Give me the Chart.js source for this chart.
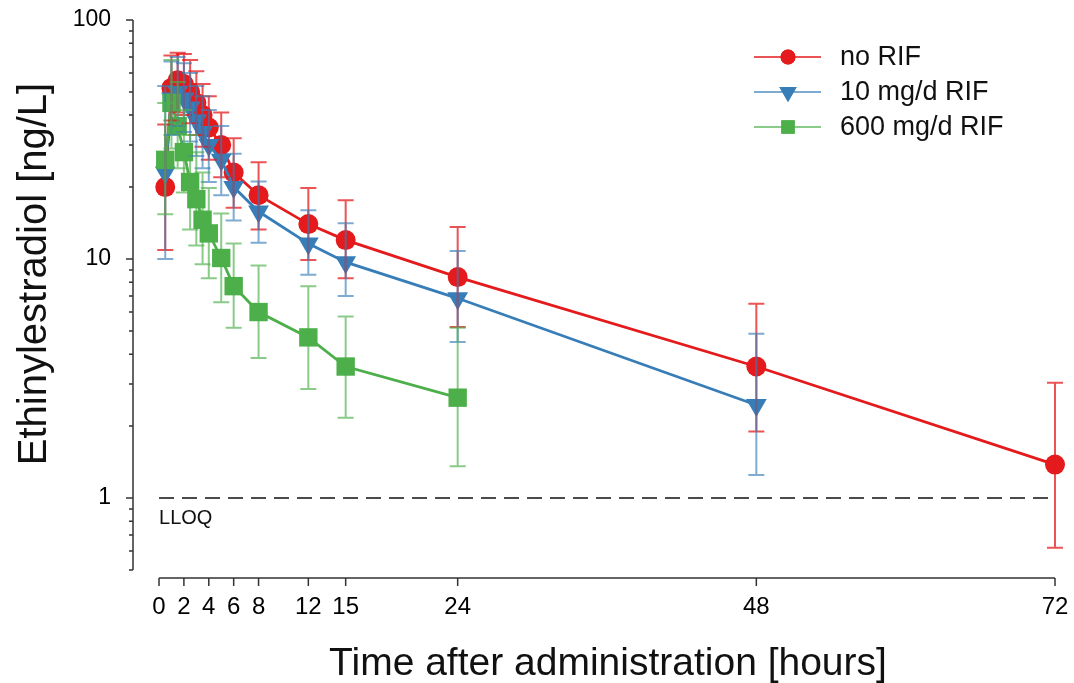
<!DOCTYPE html>
<html>
<head>
<meta charset="utf-8">
<script src="https://cdn.jsdelivr.net/npm/chart.js@4.4.0/dist/chart.umd.min.js"></script>
<style>
  body { margin: 0; background: #fff; }
  #wrap { width: 1074px; height: 683px; position: relative; }
</style>
</head>
<body>
<div id="wrap"><canvas id="chart"></canvas></div>
<script>
// sampling times (hours)
let times = [0.5, 1, 1.5, 2, 2.5, 3, 3.5, 4, 5, 6, 8, 12, 15, 24, 48, 72];

// no RIF
let noRif = [20, 52, 56, 54, 50, 45, 40, 35.5, 30, 23, 18.5, 14, 12, 8.4, 3.55, 1.38];
let noRifLow = [10.9, 38, 41, 40, 37, 33, 29.5, 26, 22, 16.4, 13.3, 9.9, 8.3, 5.2, 1.9, 0.62];
let noRifHigh = [36.5, 71, 73, 72, 68, 61, 54, 48, 41, 32, 25.4, 19.8, 17.6, 13.6, 6.5, 3.04];

// 10 mg/d RIF
let rif10 = [23, 47, 50, 47, 43, 38, 34, 30, 26, 20, 15.8, 11.6, 9.7, 6.85, 2.45];
let rif10Low = [10, 33, 36, 34, 31, 27, 24, 21, 18.5, 14.5, 11.7, 8.6, 7, 4.5, 1.25];
let rif10High = [53, 67, 70, 66, 60, 53, 48, 42, 36, 27.6, 21.1, 16, 14.1, 10.8, 4.87];

// 600 mg/d RIF
let rif600 = [26, 45, 36, 28, 21, 17.8, 14.6, 12.8, 10.1, 7.7, 6, 4.7, 3.55, 2.63];
let rif600Low = [15.4, 29, 24, 19, 13.3, 11.4, 9.5, 8.3, 6.6, 5.16, 3.85, 2.86, 2.17, 1.36];
let rif600High = [45, 68, 55, 42, 33, 28, 23, 19.8, 15.5, 11.6, 9.4, 7.7, 5.75, 5.16];

let lloq = 1;
let xTicks = [0, 2, 4, 6, 8, 12, 15, 24, 48, 72];
let yTicks = [1, 10, 100];

let red = '#e41a1c';
let blue = '#377eb8';
let green = '#4daf4a';
let font = '"Liberation Sans", Arial, sans-serif';

function pts(ys) {
    return ys.map((y, i) => ({ x: times[i], y: y }));
}

let series = [
    { label: 'no RIF', color: red, bar: 'rgba(228,26,28,0.75)', style: 'circle', low: noRifLow, high: noRifHigh },
    { label: '10 mg/d RIF', color: blue, bar: 'rgba(55,126,184,0.65)', style: 'triangle', low: rif10Low, high: rif10High },
    { label: '600 mg/d RIF', color: green, bar: 'rgba(77,175,74,0.65)', style: 'rect', low: rif600Low, high: rif600High }
];

// error bars, drawn through the chart scales
const errorBars = {
    id: 'errorBars',
    afterDatasetsDraw(chart) {
        const ctx = chart.ctx;
        const xs = chart.scales.x, ys = chart.scales.y;
        series.forEach(s => {
            ctx.save();
            ctx.strokeStyle = s.bar;
            ctx.lineWidth = 2;
            s.low.forEach((lo, i) => {
                const px = xs.getPixelForValue(times[i]);
                const yl = ys.getPixelForValue(lo);
                const yh = ys.getPixelForValue(s.high[i]);
                ctx.beginPath();
                ctx.moveTo(px, yl); ctx.lineTo(px, yh);
                ctx.moveTo(px - 8, yl); ctx.lineTo(px + 8, yl);
                ctx.moveTo(px - 8, yh); ctx.lineTo(px + 8, yh);
                ctx.stroke();
            });
            ctx.restore();
        });
    }
};

// detached axis lines, tick marks, titles, LLOQ note
const axes = {
    id: 'axes',
    afterDraw(chart) {
        const ctx = chart.ctx;
        const xs = chart.scales.x, ys = chart.scales.y;
        const left = chart.chartArea.left;
        const xy = chart.chartArea.bottom + 8;
        ctx.save();
        ctx.strokeStyle = '#333';
        ctx.lineWidth = 1.5;
        ctx.beginPath();
        ctx.moveTo(left, ys.getPixelForValue(100));
        ctx.lineTo(left, ys.getPixelForValue(0.5));
        [0.5, 0.6, 0.7, 0.8, 0.9, 1, 2, 3, 4, 5, 6, 7, 8, 9, 10, 20, 30, 40, 50, 60, 70, 80, 90, 100].forEach(v => {
            const py = ys.getPixelForValue(v);
            const len = yTicks.includes(v) ? 7 : 4;
            ctx.moveTo(left, py); ctx.lineTo(left - len, py);
        });
        ctx.moveTo(xs.getPixelForValue(0), xy);
        ctx.lineTo(xs.getPixelForValue(72), xy);
        xTicks.forEach(v => {
            const px = xs.getPixelForValue(v);
            ctx.moveTo(px, xy); ctx.lineTo(px, xy + 8);
        });
        ctx.stroke();

        ctx.fillStyle = '#111';
        ctx.font = '20px ' + font;
        ctx.textBaseline = 'alphabetic';
        ctx.fillText('LLOQ', xs.getPixelForValue(0), ys.getPixelForValue(lloq) + 26);

        ctx.font = '39px ' + font;
        ctx.textAlign = 'center';
        ctx.fillText('Time after administration [hours]', 608, 675);
        ctx.translate(46, 274);
        ctx.rotate(-Math.PI / 2);
        ctx.font = '40px ' + font;
        ctx.fillText('Ethinylestradiol [ng/L]', 0, 0);
        ctx.restore();
    }
};

// legend with line + marker
const lineLegend = {
    id: 'lineLegend',
    afterDraw(chart) {
        const ctx = chart.ctx;
        ctx.save();
        series.forEach((s, i) => {
            const y = 57 + i * 35;
            ctx.strokeStyle = s.bar;
            ctx.lineWidth = 2;
            ctx.beginPath();
            ctx.moveTo(754, y); ctx.lineTo(821, y);
            ctx.stroke();
            ctx.fillStyle = s.color;
            Chart.helpers.drawPoint(ctx, { pointStyle: s.style, radius: s.style === 'rect' ? 9.5 : (s.style === 'triangle' ? 10 : 7.5), rotation: s.style === 'triangle' ? 180 : 0, borderWidth: 0 }, 788, y);
            ctx.fill();
            ctx.fillStyle = '#111';
            ctx.font = '27px ' + font;
            ctx.textBaseline = 'middle';
            ctx.fillText(s.label, 840, y + 1);
        });
        ctx.restore();
    }
};

let datasets = [
    {
        data: pts(noRif), borderColor: red, backgroundColor: red, borderWidth: 2.8,
        pointStyle: 'circle', pointRadius: 10, pointBorderWidth: 0, order: 3, clip: false
    },
    {
        data: pts(rif10), borderColor: blue, backgroundColor: blue, borderWidth: 2.8,
        pointStyle: 'triangle', pointRotation: 180, pointRadius: 12, pointBorderWidth: 0, order: 2, clip: false
    },
    {
        data: pts(rif600), borderColor: green, backgroundColor: green, borderWidth: 2.8,
        pointStyle: 'rect', pointRadius: 13, pointBorderWidth: 0, order: 1, clip: false
    },
    {
        data: [{ x: 0, y: lloq }, { x: 72, y: lloq }], borderColor: '#111', borderWidth: 1.5,
        borderDash: [15, 8], pointRadius: 0, order: 4, clip: false
    }
];

new Chart(document.getElementById('chart'), {
    type: 'line',
    data: { datasets: datasets },
    options: {
        responsive: true,
        maintainAspectRatio: false,
        animation: false,
        layout: { padding: { top: 20, right: 19, left: 0, bottom: 0 } },
        plugins: { legend: { display: false }, tooltip: { enabled: false } },
        scales: {
            x: {
                type: 'linear',
                min: -2.09,
                max: 72,
                grid: { display: false, drawTicks: false },
                border: { display: false },
                afterBuildTicks: scale => { scale.ticks = xTicks.map(v => ({ value: v })); },
                afterFit: scale => {
                    scale.height = 113;
                    scale.paddingLeft = 0; scale.paddingRight = 0;
                },
                ticks: {
                    color: '#000', padding: 23, maxRotation: 0, autoSkip: false,
                    font: { family: font, size: 24 }
                }
            },
            y: {
                type: 'logarithmic',
                min: 0.5,
                max: 100,
                grid: { display: false, drawTicks: false },
                border: { display: false },
                afterBuildTicks: scale => { scale.ticks = yTicks.map(v => ({ value: v })); },
                afterFit: scale => {
                    scale.width = 133;
                    scale.paddingTop = 0; scale.paddingBottom = 0;
                },
                ticks: {
                    color: '#000', padding: 22,
                    font: { family: font, size: 23 },
                    callback: v => String(v)
                }
            }
        }
    },
    plugins: [errorBars, axes, lineLegend]
});
</script>
</body>
</html>
